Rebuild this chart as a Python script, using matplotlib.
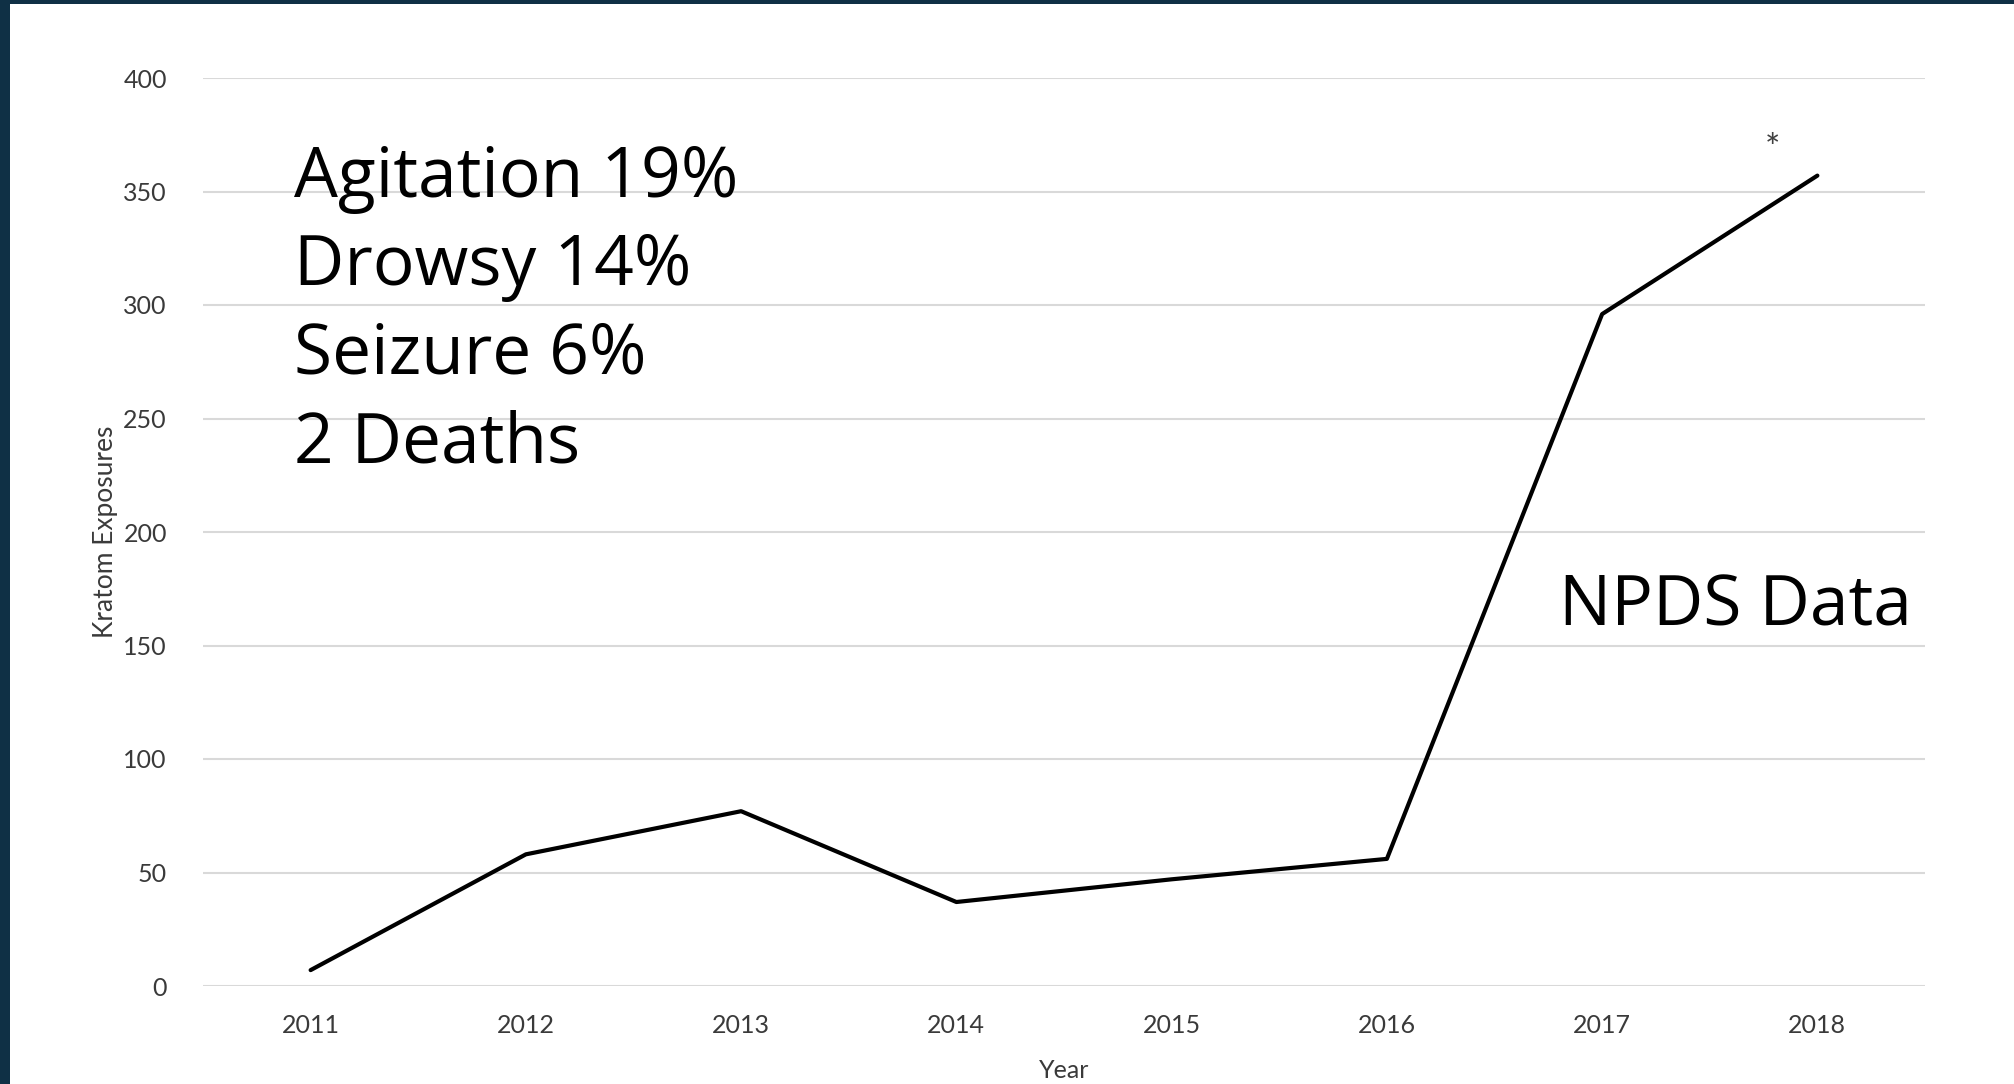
import matplotlib.pyplot as plt
from matplotlib.patches import Rectangle

# Kratom exposures reported to NPDS by year
years = ["2011", "2012", "2013", "2014", "2015", "2016", "2017", "2018"]
exposures = [7, 58, 77, 37, 47, 56, 296, 357]
yticks = [0, 50, 100, 150, 200, 250, 300, 350, 400]
effects = ["Agitation 19%", "Drowsy 14%", "Seizure 6%", "2 Deaths"]

fig = plt.figure(figsize=(20.15, 10.84), dpi=100)
fig.patch.set_facecolor("white")
ax = fig.add_axes([203 / 2015, 1 - 986 / 1084, (1925 - 203) / 2015, (986 - 78) / 1084])

x = list(range(len(years)))
ax.plot(x, exposures, color="black", linewidth=3.0, solid_capstyle="round", zorder=3)

ax.set_xlim(-0.5, len(years) - 0.5)
ax.set_ylim(0, 400)
ax.set_xticks(x)
ax.set_xticklabels(years)
ax.set_yticks(yticks)
ax.grid(axis="y", color="#d9d9d9", linewidth=1.5)
ax.set_axisbelow(True)
for s in ax.spines.values():
    s.set_visible(False)
ax.tick_params(length=0, labelsize=18, labelcolor="#3a3a3a", pad=26, labelfontfamily="Lato")
ax.tick_params(axis="x", pad=20)
ax.set_xlabel("Year", fontsize=18, color="#3a3a3a", family="Lato", labelpad=16)
ax.set_ylabel("Kratom Exposures", fontsize=19, color="#3a3a3a", family="Lato", labelpad=4)

# asterisk over the 2018 point
ax.text(6.79, 368.5, "*", fontsize=26, color="#404040", ha="center", va="center", family="Lato")

# big annotation text
for i, t in enumerate(effects):
    fig.text(294 / 2015, 1 - (197 + i * 88.5) / 1084, t, fontsize=50, family="Open Sans",
             color="black", va="baseline", ha="left")
fig.text(1559 / 2015, 1 - 626 / 1084, "NPDS Data", fontsize=50, family="Open Sans",
         color="black", va="baseline", ha="left")

# dark slide border on left and top
fig.patches.append(Rectangle((0, 0), 10 / 2015, 1, transform=fig.transFigure,
                             facecolor="#0f3045", edgecolor="none", zorder=10))
fig.patches.append(Rectangle((0, 1 - 4 / 1084), 1, 4 / 1084, transform=fig.transFigure,
                             facecolor="#0f3045", edgecolor="none", zorder=10))

fig.savefig("out.png", dpi=100)
